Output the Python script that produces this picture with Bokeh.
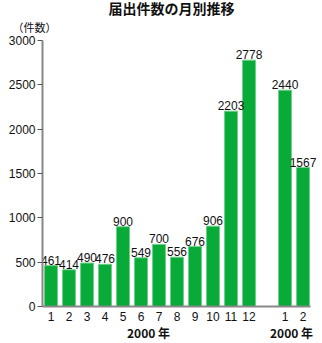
from bokeh.plotting import figure
from bokeh.models import ColumnDataSource, FixedTicker, Range1d, LinearAxis, Title
from bokeh.core.properties import value
from bokeh.embed import file_html
from bokeh.resources import INLINE

months = ["1", "2", "3", "4", "5", "6", "7", "8", "9", "10", "11", "12", "1", "2"]
positions = [1, 2, 3, 4, 5, 6, 7, 8, 9, 10, 11, 12, 14, 15]
counts = [461, 414, 490, 476, 900, 549, 700, 556, 676, 906, 2203, 2778, 2440, 1567]
year_labels = ["2000 年", "2000 年"]
y_ticks = [0, 500, 1000, 1500, 2000, 2500, 3000]
title_text = "届出件数の月別推移"
unit_text = "（件数）"

src = ColumnDataSource(dict(x=positions, y=counts, t=[str(c) for c in counts]))

p = figure(width=322, height=343, output_backend="svg", toolbar_location=None,
           x_range=Range1d(0.528, 15.97), y_range=Range1d(0, 3011),
           min_border_left=42, min_border_right=2, min_border_top=38, min_border_bottom=35)
p.title = None
p.outline_line_color = None
p.grid.visible = False
p.background_fill_color = "white"

p.vbar(x="x", top="y", width=0.72, source=src, fill_color="#08aa38", line_color="#6fd08a", line_width=1)
p.text(x="x", y="y", text="t", source=src, text_align="center", text_baseline="bottom",
       y_offset=-1, text_font=value("Liberation Sans"), text_font_size="12px", text_color="#111111")

ax = p.xaxis[0]
ax.ticker = FixedTicker(ticks=positions)
ax.bounds = (0.528, 15.42)
ax.major_label_overrides = {pos: m for pos, m in zip(positions, months)}
ax.major_tick_line_color = None
ax.minor_tick_line_color = None
ax.major_tick_out = 0
ax.major_tick_in = 0
ax.axis_line_color = "#888888"
ax.axis_line_width = 2
ax.major_label_standoff = 5
ax.major_label_text_font = "Liberation Sans"
ax.major_label_text_font_size = "12px"
ax.major_label_text_color = "#111111"

# second row of x labels (years)
p.extra_x_ranges = {"yr": Range1d(1 - 106 / 143, 2 + 29 / 143)}
yax = LinearAxis(x_range_name="yr", ticker=FixedTicker(ticks=[1, 2]),
                 major_label_overrides={1: year_labels[0], 2: year_labels[1]})
yax.axis_line_color = None
yax.major_tick_line_color = None
yax.minor_tick_line_color = None
yax.major_tick_out = 0
yax.major_tick_in = 0
yax.major_label_standoff = 0
yax.major_label_text_font = "Noto Sans CJK JP"
yax.major_label_text_font_style = "bold"
yax.major_label_text_font_size = "12px"
yax.major_label_text_color = "#111111"
p.add_layout(yax, "below")

ay = p.yaxis[0]
ay.ticker = FixedTicker(ticks=y_ticks)
ay.bounds = (0, 3000)
ay.minor_tick_line_color = None
ay.axis_line_color = "#888888"
ay.axis_line_width = 2
ay.major_tick_line_color = "#555555"
ay.major_tick_out = 5
ay.major_tick_in = 0
ay.major_label_standoff = 2
ay.major_label_text_font = "Liberation Sans"
ay.major_label_text_font_size = "12px"
ay.major_label_text_color = "#111111"

t1 = Title(text=title_text, align="left", offset=66, standoff=-4,
           text_font="Liberation Sans, Noto Sans CJK JP", text_font_style="bold",
           text_font_size="14px", text_color="#111111")
t2 = Title(text=unit_text, align="left", offset=-30, standoff=11,
           text_font="Liberation Sans, Noto Sans CJK JP", text_font_style="normal",
           text_font_size="11px", text_color="#111111")
p.add_layout(t2, "above")
p.add_layout(t1, "above")

open("out.html", "w").write(file_html(p, INLINE))
